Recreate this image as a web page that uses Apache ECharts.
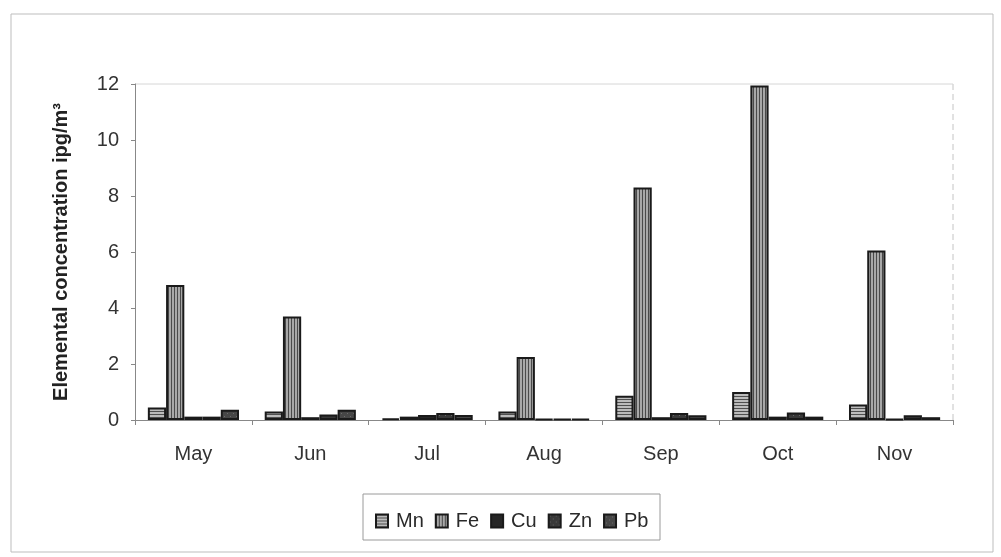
<!DOCTYPE html>
<html>
<head>
<meta charset="utf-8">
<script src="https://cdn.jsdelivr.net/npm/echarts@6/dist/echarts.min.js"></script>
<style>
html,body{margin:0;padding:0;background:#fff;}
#chart{width:1001px;height:557px;}
</style>
</head>
<body>
<div id="chart"></div>
<script>
const months = ['May','Jun','Jul','Aug','Sep','Oct','Nov'];
const yTicks = [0,2,4,6,8,10,12];
const Mn = [0.45, 0.3, 0.06, 0.3, 0.87, 1.0, 0.55];
const Fe = [4.82, 3.7, 0.12, 2.25, 8.3, 11.95, 6.05];
const Cu = [0.12, 0.1, 0.18, 0.03, 0.1, 0.12, 0.03];
const Zn = [0.12, 0.2, 0.25, 0.03, 0.25, 0.27, 0.17];
const Pb = [0.37, 0.37, 0.18, 0.03, 0.17, 0.12, 0.1];
const seriesNames = ['Mn','Fe','Cu','Zn','Pb'];

function makePattern(kind){
  const c = document.createElement('canvas');
  c.width = 6; c.height = 6;
  const g = c.getContext('2d');
  if (kind === 'h') {
    g.fillStyle = '#bcbcbc'; g.fillRect(0,0,6,6);
    g.fillStyle = '#505050';
    g.fillRect(0,0,6,1); g.fillRect(0,3,6,1);
  } else if (kind === 'v') {
    g.fillStyle = '#a8a8a8'; g.fillRect(0,0,6,6);
    g.fillStyle = '#4a4a4a';
    g.fillRect(0,0,1,6); g.fillRect(3,0,1,6);
  } else if (kind === 'cu') {
    g.fillStyle = '#262626'; g.fillRect(0,0,6,6);
  } else if (kind === 'zn') {
    g.fillStyle = '#393939'; g.fillRect(0,0,6,6);
    g.fillStyle = '#666';
    g.fillRect(1,1,1,1); g.fillRect(4,4,1,1);
  } else {
    g.fillStyle = '#474747'; g.fillRect(0,0,6,6);
    g.fillStyle = '#6c6c6c';
    g.fillRect(2,2,1,1); g.fillRect(5,5,1,1);
  }
  return {image: c, repeat: 'repeat'};
}
const patterns = [makePattern('h'), makePattern('v'), makePattern('cu'), makePattern('zn'), makePattern('pb')];
const dataSets = [Mn, Fe, Cu, Zn, Pb];

const font = 'Liberation Sans, Arial, sans-serif';
const chart = echarts.init(document.getElementById('chart'), null, {renderer:'canvas'});
chart.setOption({
  animation: false,
  backgroundColor: '#fff',
  graphic: [
    {type:'rect', shape:{x:11, y:14, width:982, height:538}, style:{fill:'none', stroke:'#bdbdbd', lineWidth:1}, z:-1},
    {type:'line', shape:{x1:953, y1:84, x2:953, y2:420}, style:{stroke:'#c4c4c4', lineWidth:1, lineDash:[6,4]}, z:-1},
    {type:'line', shape:{x1:135, y1:84, x2:953, y2:84}, style:{stroke:'#d6d6d6', lineWidth:1}, z:-1},
    {type:'rect', shape:{x:363, y:494, width:297, height:46}, style:{fill:'none', stroke:'#9a9a9a', lineWidth:1}, z:-1}
  ],
  grid: {left:135, right:48, top:84, bottom:137, containLabel:false},
  legend: {
    data: seriesNames,
    top: 506,
    left: 370,
    itemWidth: 12, itemHeight: 13, itemGap: 11,
    icon: 'rect',
    textStyle: {fontFamily: font, fontSize: 20, color:'#2a2a2a', padding:[0,0,0,3]}
  },
  xAxis: {
    type: 'category',
    data: months,
    axisLine: {lineStyle:{color:'#888', width:1}},
    axisTick: {show:true, length:5, lineStyle:{color:'#888'}},
    axisLabel: {fontFamily: font, fontSize: 20, color:'#333', margin: 24}
  },
  yAxis: {
    type: 'value',
    min: yTicks[0], max: yTicks[yTicks.length-1], interval: 2,
    name: 'Elemental concentration ipg/m³',
    nameLocation: 'middle',
    nameGap: 64,
    nameTextStyle: {fontFamily: font, fontSize: 20, fontWeight:'bold', color:'#222'},
    axisLine: {show:true, lineStyle:{color:'#888', width:1}},
    axisTick: {show:true, length:4, lineStyle:{color:'#888'}},
    splitLine: {show:false},
    axisLabel: {fontFamily: font, fontSize: 20, color:'#333', margin: 16}
  },
  series: seriesNames.map((n,i)=>({
    name: n,
    type: 'bar',
    data: dataSets[i],
    barGap: '0%',
    barCategoryGap: '22%',
    itemStyle: {color: patterns[i], borderColor:'#1a1a1a', borderWidth:2}
  }))
});
</script>
</body>
</html>
